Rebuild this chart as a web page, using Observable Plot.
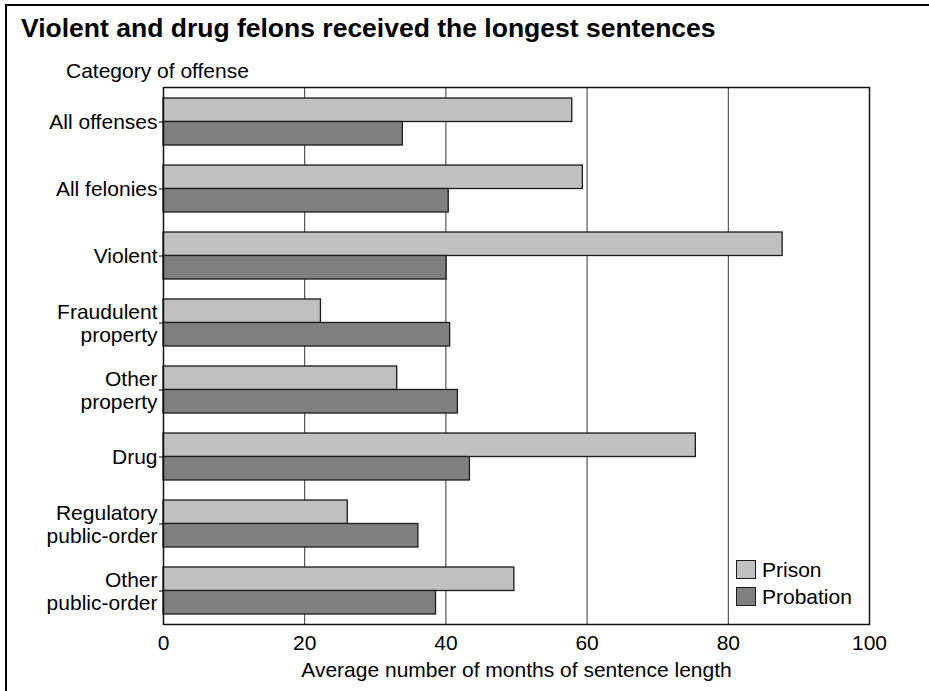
<!DOCTYPE html>
<html>
<head>
<meta charset="utf-8">
<script src="https://cdn.jsdelivr.net/npm/d3@7"></script>
<script src="https://cdn.jsdelivr.net/npm/@observablehq/plot@0.6"></script>
<style>
html, body { margin: 0; padding: 0; overflow: hidden; background: #fff; }
body { width: 929px; height: 691px; position: relative; font-family: "Liberation Sans", Arial, sans-serif; color: #000; }
#box { position: absolute; left: 5px; top: 4px; width: 924px; height: 687px; border-left: 2px solid #000; border-top: 2px solid #000; box-sizing: border-box; }
#title { position: absolute; left: 21px; top: 15px; font-weight: bold; font-size: 26.5px; line-height: 1; white-space: nowrap; }
#ylabel { position: absolute; left: 66px; top: 59.5px; font-size: 21px; line-height: 1; white-space: nowrap; }
#chart { position: absolute; left: 0; top: 0; }
#legend { position: absolute; left: 736px; top: 560px; }
.row { position: relative; height: 27px; }
.sw { position: absolute; left: 0; top: 0; width: 20px; height: 19px; box-sizing: border-box; border: 1.3px solid #1a1a1a; }
.lt { position: absolute; left: 26px; top: -1px; font-size: 21px; line-height: 1; white-space: nowrap; }
</style>
</head>
<body>
<div id="box"></div>
<div id="chart"></div>
<div id="title">Violent and drug felons received the longest sentences</div>
<div id="ylabel">Category of offense</div>
<div id="legend"></div>
<script>
const categories = ["All offenses", "All felonies", "Violent", "Fraudulent\nproperty", "Other\nproperty", "Drug", "Regulatory\npublic-order", "Other\npublic-order"];
const prison = [57.9, 59.4, 87.7, 22.3, 33.1, 75.4, 26.1, 49.7];
const probation = [33.9, 40.4, 40.1, 40.6, 41.7, 43.4, 36.1, 38.6];
const series = ["Prison", "Probation"];
const colors = ["#c0c0c0", "#808080"];
const xTicks = [0, 20, 40, 60, 80, 100];
const gridValues = [20, 40, 60, 80];
const xLabel = "Average number of months of sentence length";

const rows = categories.map((c, i) => ({category: c, prison: prison[i], probation: probation[i]}));

const W = 929, H = 691, mL = 163, mR = 60, mT = 87, mB = 67;
const padIn = 0.3, padOut = 0.15;
const step = (H - mT - mB) / (categories.length - padIn + 2 * padOut);
const half = step * (1 - padIn) / 2;

const chart = Plot.plot({
  width: W, height: H,
  marginLeft: mL, marginRight: mR, marginTop: mT, marginBottom: mB,
  style: {fontFamily: "'Liberation Sans', Arial, sans-serif", fontSize: "21px", color: "#000", background: "transparent"},
  x: {domain: [0, 100]},
  y: {domain: categories, paddingInner: padIn, paddingOuter: padOut},
  marks: [
    Plot.ruleX(gridValues, {stroke: "#333", strokeWidth: 1}),
    Plot.barX(rows, {y: "category", x: "prison", fill: colors[0], stroke: "#1a1a1a", strokeWidth: 1.3, insetBottom: half}),
    Plot.barX(rows, {y: "category", x: "probation", fill: colors[1], stroke: "#1a1a1a", strokeWidth: 1.3, insetTop: half}),
    Plot.frame({stroke: "#111", strokeWidth: 1.5}),
    Plot.axisX({ticks: xTicks, tickSize: 0, tickPadding: 11, label: null, fontSize: 21}),
    Plot.axisY({tickSize: 4, tickPadding: 2, label: null, fontSize: 21, lineHeight: 1.1}),
    Plot.text([xLabel], {frameAnchor: "bottom", dy: 52.5, lineAnchor: "bottom", fontSize: 21, fill: "#000"})
  ]
});
document.getElementById("chart").appendChild(chart);

const legend = document.getElementById("legend");
series.forEach((s, i) => {
  const row = document.createElement("div");
  row.className = "row";
  const sw = document.createElement("div");
  sw.className = "sw";
  sw.style.background = colors[i];
  const t = document.createElement("div");
  t.className = "lt";
  t.textContent = s;
  row.appendChild(sw);
  row.appendChild(t);
  legend.appendChild(row);
});
</script>
</body>
</html>
